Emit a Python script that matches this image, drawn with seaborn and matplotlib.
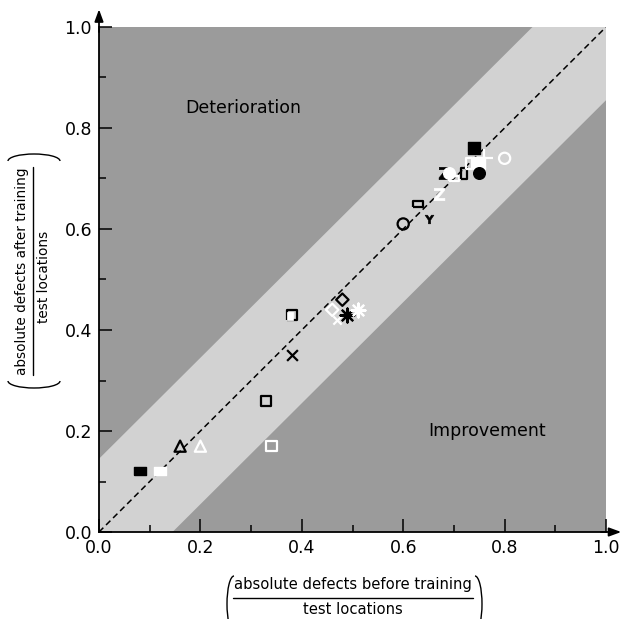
import numpy as np
import pandas as pd
import matplotlib
matplotlib.use("Agg")
import matplotlib.pyplot as plt
import matplotlib.transforms as mtrans
from matplotlib.patches import Arc
from matplotlib.lines import Line2D
import seaborn as sns

# ---- data ----
before = [0.08, 0.12, 0.16, 0.20, 0.33, 0.34, 0.38, 0.46, 0.47, 0.48, 0.49, 0.51,
          0.60, 0.63, 0.65, 0.67, 0.68, 0.69, 0.70, 0.72, 0.73, 0.74, 0.75, 0.76, 0.75, 0.80]
after = [0.12, 0.12, 0.17, 0.17, 0.26, 0.17, 0.35, 0.44, 0.42, 0.46, 0.43, 0.44,
         0.61, 0.65, 0.62, 0.67, 0.71, 0.71, 0.70, 0.71, 0.73, 0.76, 0.73, 0.74, 0.71, 0.74]
kinds = ["wrect_f", "wrect_f", "tri", "tri", "sq", "sq", "x", "dia", "xs", "dia", "ast", "ast",
         "circ", "wrect_o", "Y", "Z", "Z", "circ_f", "wrect_o", "trect", "trect", "sq_f", "sq_f",
         "plus", "circ_f", "circ"]
colors = ["black", "white", "black", "white", "black", "white", "black", "white", "white", "black",
          "black", "white", "black", "black", "black", "white", "black", "white", "white", "black",
          "white", "black", "white", "white", "black", "white"]
half_point_x = [0.38]
half_point_y = [0.43]
band = 0.145
ticks = [0.0, 0.2, 0.4, 0.6, 0.8, 1.0]
tick_labels = ["0.0", "0.2", "0.4", "0.6", "0.8", "1.0"]
xlab_num = "absolute defects before training"
ylab_num = "absolute defects after training"
lab_den = "test locations"

df = pd.DataFrame({"before": before, "after": after, "kind": kinds, "color": colors})

sns.set_style("ticks")
plt.rcParams["font.family"] = ["DejaVu Sans"]
plt.rcParams["text.color"] = "black"
plt.rcParams["xtick.color"] = "black"
plt.rcParams["ytick.color"] = "black"
plt.rcParams["xtick.labelcolor"] = "black"
plt.rcParams["ytick.labelcolor"] = "black"

DARK = "#9b9b9b"
LIGHT = "#d2d2d2"
W, H = 621, 619

fig = plt.figure(figsize=(6.21, 6.19), dpi=100)
ax = fig.add_axes([99 / W, 87 / H, 507 / W, 505 / H])
ax.set_facecolor(DARK)

xx = np.array([0.0, 1.0])
ax.fill_between(xx, xx - band, xx + band, color=LIGHT, lw=0, zorder=0.5)
sns.lineplot(x=xx, y=xx, ax=ax, color="black", lw=1.1, linestyle=(0, (4, 2.5)), zorder=1)

wide = [(-1, -0.6), (1, -0.6), (1, 0.6), (-1, 0.6), (-1, -0.6)]
tall = [(-0.55, -1), (0.55, -1), (0.55, 1), (-0.55, 1), (-0.55, -1)]

style = {
    "wrect_f": dict(marker=wide, s=80, kind="filled"),
    "wrect_o": dict(marker=wide, s=50, kind="open"),
    "trect": dict(marker=tall, s=55, kind="open"),
    "tri": dict(marker="^", s=65, kind="open"),
    "sq": dict(marker="s", s=55, kind="open"),
    "sq_f": dict(marker="s", s=80, kind="filled"),
    "x": dict(marker="x", s=60, kind="line"),
    "xs": dict(marker="x", s=35, kind="line"),
    "dia": dict(marker="D", s=40, kind="open"),
    "ast": dict(marker=(8, 2, 0), s=100, kind="line"),
    "circ": dict(marker="o", s=65, kind="open"),
    "circ_f": dict(marker="o", s=70, kind="filled"),
    "Y": dict(marker="$\\mathbf{Y}$", s=40, kind="text"),
    "Z": dict(marker="$\\mathbf{Z}$", s=80, kind="text"),
    "plus": dict(marker="+", s=150, kind="line"),
}

for i, row in df.iterrows():
    st = style[row["kind"]]
    sub = df.iloc[[i]]
    c = row["color"]
    if st["kind"] == "filled":
        sns.scatterplot(data=sub, x="before", y="after", marker=st["marker"], s=st["s"],
                        color=c, edgecolor=c, linewidth=1, ax=ax, zorder=3)
    elif st["kind"] == "open":
        sns.scatterplot(data=sub, x="before", y="after", marker=st["marker"], s=st["s"],
                        facecolor="none", edgecolor=c, linewidth=1.6, ax=ax, zorder=3)
    elif st["kind"] == "text":
        sns.scatterplot(data=sub, x="before", y="after", marker=st["marker"], s=st["s"],
                        color=c, edgecolor=c, linewidth=0.4, ax=ax, zorder=3)
    else:
        sns.scatterplot(data=sub, x="before", y="after", marker=st["marker"], s=st["s"],
                        color=c, linewidth=1.6, ax=ax, zorder=3)

# half-covered square: black outline with a white block over its lower-left part
ax.plot(half_point_x, half_point_y, marker=[(-1, -1), (1, -1), (1, 1), (-1, 1), (-1, -1)],
        ms=7, markerfacecolor="none", markeredgecolor="black", mew=1.6, ls="none", zorder=3)
ax.plot(half_point_x, half_point_y, marker=[(-1.25, -1.25), (0.35, -1.25), (0.35, 0.7),
                                            (-1.25, 0.7), (-1.25, -1.25)],
        ms=7, markerfacecolor="white", markeredgecolor="white", mew=0.5, ls="none", zorder=3.1)

ax.text(0.285, 0.84, "Deterioration", ha="center", va="center", fontsize=12.5, color="black")
ax.text(0.765, 0.20, "Improvement", ha="center", va="center", fontsize=12.5, color="black")

ax.set_xlim(0, 1)
ax.set_ylim(0, 1)
ax.set_xticks(ticks)
ax.set_xticklabels(tick_labels)
ax.set_yticks(ticks)
ax.set_yticklabels(tick_labels)
ax.set_xticks(np.arange(0.1, 1.0, 0.2), minor=True)
ax.set_yticks(np.arange(0.1, 1.0, 0.2), minor=True)
ax.tick_params(which="major", direction="in", length=9.5, width=1.1, labelsize=12.5, pad=5,
               color="black", labelcolor="black")
ax.tick_params(which="minor", direction="in", length=5, width=1.1, color="black")
for sp in ["top", "right"]:
    ax.spines[sp].set_visible(False)
for sp in ["left", "bottom"]:
    ax.spines[sp].set_linewidth(1.3)
    ax.spines[sp].set_color("black")
    ax.spines[sp].set_zorder(5)
ax.set_xlabel("")
ax.set_ylabel("")

arrow = dict(arrowstyle="-|>,head_length=0.6,head_width=0.22", color="black", lw=1.3,
             shrinkA=0, shrinkB=0, mutation_scale=12)
ax.annotate("", xy=(1.03, 0), xytext=(0.99, 0), xycoords="axes fraction",
            textcoords="axes fraction", arrowprops=arrow, annotation_clip=False)
ax.annotate("", xy=(0, 1.035), xytext=(0, 0.99), xycoords="axes fraction",
            textcoords="axes fraction", arrowprops=arrow, annotation_clip=False)

# ---- fraction-style axis labels, in image pixel coordinates (origin top-left) ----
pix = mtrans.Affine2D().scale(1, -1).translate(0, H) + mtrans.IdentityTransform()
lab_fs = 10.6

# x label
fig.text(353, 585, xlab_num, transform=pix, ha="center", va="center", fontsize=lab_fs,
         color="black")
fig.text(353, 609, lab_den, transform=pix, ha="center", va="center", fontsize=lab_fs,
         color="black")
fig.add_artist(Line2D([233, 473], [598, 598], transform=pix, color="black", lw=1.0))
fig.add_artist(Arc((234, 604), 14, 56, theta1=90, theta2=270, transform=pix,
                   color="black", lw=1.0))
fig.add_artist(Arc((475, 604), 14, 56, theta1=-90, theta2=90, transform=pix,
                   color="black", lw=1.0))

# y label
yc = 271
yfs = 9.8
fig.text(22, yc, ylab_num, transform=pix, ha="center", va="center", rotation=90,
         fontsize=yfs, color="black")
fig.text(44, yc + 6, lab_den, transform=pix, ha="center", va="center", rotation=90,
         fontsize=yfs, color="black")
fig.add_artist(Line2D([33, 33], [yc - 104, yc + 104], transform=pix, color="black", lw=1.0))
fig.add_artist(Arc((34, yc + 110), 52, 14, theta1=0, theta2=180, transform=pix,
                   color="black", lw=1.0))
fig.add_artist(Arc((34, yc - 110), 52, 14, theta1=180, theta2=360, transform=pix,
                   color="black", lw=1.0))

fig.savefig("out.png", dpi=100)
